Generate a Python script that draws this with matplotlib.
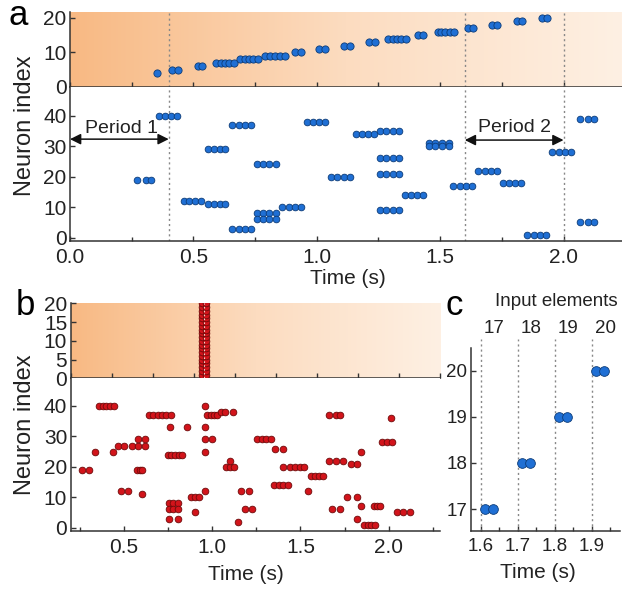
import matplotlib
matplotlib.use("Agg")
import matplotlib.pyplot as plt
import numpy as np
from matplotlib.colors import LinearSegmentedColormap
from matplotlib.ticker import MultipleLocator

plt.rcParams['font.family'] = ['Liberation Sans', 'DejaVu Sans']

W, H = 622, 589

# ===== DATEN =====
# a, oben: Eingangselemente (Index -> Spikezeiten)
input_idx = [4, 5, 6, 7, 8, 9, 10, 11, 12, 13, 14, 15, 16, 17, 18, 19, 20]
input_times = [
    [0.352], [0.412, 0.436], [0.517, 0.534],
    [0.59, 0.61, 0.63, 0.645, 0.665], [0.69, 0.71, 0.725, 0.74, 0.76],
    [0.79, 0.81, 0.83, 0.85, 0.87], [0.91, 0.935], [1.01, 1.035],
    [1.11, 1.135], [1.21, 1.235], [1.29, 1.31, 1.325, 1.34, 1.36],
    [1.41, 1.43], [1.49, 1.505, 1.52, 1.54, 1.555],
    [1.612, 1.632], [1.712, 1.732], [1.812, 1.832], [1.912, 1.932],
]

# a, unten: Ausgangsneuronen (blau)
out_a_idx = [19, 40, 12, 29, 11, 37, 3, 24, 8, 6, 10, 38, 20, 34, 35, 26,
             21, 9, 14, 31, 30, 17, 22, 18, 1, 28, 39, 5]
out_a_times = [
    [0.273, 0.307, 0.330], [0.361, 0.385, 0.41, 0.433],
    [0.46, 0.483, 0.507, 0.53], [0.56, 0.583, 0.607, 0.63],
    [0.56, 0.583, 0.607, 0.63], [0.658, 0.683, 0.708, 0.733],
    [0.658, 0.683, 0.708, 0.733], [0.757, 0.783, 0.808, 0.834],
    [0.757, 0.783, 0.808, 0.834], [0.757, 0.783, 0.808, 0.834],
    [0.861, 0.886, 0.91, 0.935], [0.96, 0.984, 1.008, 1.032],
    [1.057, 1.083, 1.109, 1.135], [1.158, 1.183, 1.207, 1.232],
    [1.255, 1.281, 1.308, 1.334], [1.255, 1.281, 1.308, 1.334],
    [1.255, 1.281, 1.308, 1.334], [1.255, 1.281, 1.308, 1.334],
    [1.357, 1.382, 1.407, 1.432], [1.455, 1.481, 1.508, 1.534],
    [1.455, 1.481, 1.508, 1.534], [1.554, 1.58, 1.605, 1.631],
    [1.655, 1.681, 1.706, 1.732], [1.756, 1.78, 1.805, 1.829],
    [1.854, 1.88, 1.905, 1.931], [1.955, 1.98, 2.004, 2.029],
    [2.067, 2.1, 2.124], [2.067, 2.1, 2.124],
]
period_lines = [0.4, 1.6, 2.0]

# b, oben: alle Eingaenge gleichzeitig
burst_idx = list(range(1, 21))
burst_times = [0.799, 0.823]

# b, unten: Ausgangsneuronen (rot)
out_b_idx = [19, 25, 40, 27, 29, 12, 11, 37, 33, 24, 8, 6, 3, 10, 5, 38,
             20, 22, 2, 26, 14, 17, 21, 36, 28, 7, 1]
out_b_times = [
    [0.264, 0.305, 0.576, 0.59, 0.605],
    [0.339, 0.44, 0.958, 1.845],
    [0.358, 0.38, 0.40, 0.42, 0.443, 0.958],
    [0.466, 0.504, 0.548, 0.582, 0.623],
    [0.582, 0.623, 0.958, 1.002, 1.254, 1.281, 1.308, 1.334],
    [0.485, 0.525, 0.958, 1.163, 1.207, 1.542],
    [0.601],
    [0.642, 0.667, 0.692, 0.716, 0.741, 0.765, 0.974, 0.993, 1.012, 1.03,
     1.659, 1.699, 1.722],
    [0.76, 0.856, 0.958],
    [0.75, 0.77, 0.79, 0.813, 0.832],
    [0.756, 0.78, 0.807],
    [0.756, 0.78, 0.807, 1.186, 1.226, 1.679, 1.722],
    [0.756, 0.807, 1.82],
    [0.879, 0.902, 0.926, 1.765, 1.82],
    [0.902, 2.044, 2.082, 2.12],
    [1.049, 1.074, 1.121],
    [1.078, 1.1, 1.125, 1.403, 1.443, 1.47, 1.497, 1.523],
    [1.1, 1.659, 1.699, 1.743],
    [1.144],
    [1.358, 1.403],
    [1.352, 1.377, 1.403, 1.428],
    [1.561, 1.583, 1.605, 1.627],
    [1.788, 1.82],
    [2.015],
    [1.964, 1.992, 2.02],
    [1.845, 1.917, 1.933, 1.949],
    [1.861, 1.881, 1.901, 1.921],
]

# c: Ausschnitt der Eingaenge 17-20
zoom_idx = [17, 18, 19, 20]
zoom_times = [[1.612, 1.632], [1.712, 1.732], [1.812, 1.832], [1.912, 1.932]]
zoom_lines = [1.6, 1.7, 1.8, 1.9]

# ===== STIL =====
BLUE, BLUE_EDGE = "#1f6fd4", "#0d3c78"
RED, RED_EDGE = "#d2141b", "#6e0a0a"
AX_COL = "#333333"
grad = LinearSegmentedColormap.from_list("grad", ["#f8b983", "#fcdcc0", "#fef0e3"])

fig = plt.figure(figsize=(W / 100, H / 100), dpi=100)


def px_axes(left, top, right, bottom):
    return fig.add_axes([left / W, 1 - bottom / H, (right - left) / W, (bottom - top) / H])


def style(ax, fs=15):
    for s in ["top", "right"]:
        ax.spines[s].set_visible(False)
    for s in ["left", "bottom"]:
        ax.spines[s].set_color(AX_COL)
        ax.spines[s].set_linewidth(1.1)
    ax.tick_params(direction="in", length=3.5, width=1, color=AX_COL,
                   labelsize=fs, labelcolor="#222222")
    ax.tick_params(axis="y", pad=2.5)
    ax.tick_params(axis="x", pad=5)
    ax.tick_params(which="minor", direction="in", length=3, width=1, color=AX_COL)


def background(ax, xlim, ylim):
    ax.imshow(np.linspace(0, 1, 256).reshape(1, -1), cmap=grad, aspect="auto",
              extent=[xlim[0], xlim[1], ylim[0], ylim[1]], zorder=0)
    ax.set_xlim(xlim)
    ax.set_ylim(ylim)


def dots(ax, idx, times, fc, ec, ms=4.8, **kw):
    for i, t in zip(idx, times):
        ax.plot(t, [i] * len(t), "o", ms=ms, mfc=fc, mec=ec, mew=0.6, zorder=3, **kw)


dash = dict(color="#888888", lw=1.0, ls=(0, (1.5, 2.2)), zorder=2)

# ===== PANEL a =====
xa = (0, 2.237)
ax_a1 = px_axes(70, 12, 622, 87)
background(ax_a1, xa, (0, 21.7))
style(ax_a1)
dots(ax_a1, input_idx, input_times, BLUE, BLUE_EDGE, ms=5.2)
ax_a1.set_yticks([0, 10, 20])
ax_a1.xaxis.set_major_locator(MultipleLocator(0.25))
ax_a1.set_xticklabels([])
for x in period_lines:
    ax_a1.axvline(x, **dash)

ax_a2 = px_axes(70, 87, 622, 240.7)
ax_a2.set_xlim(xa)
ax_a2.set_ylim(-1, 49.4)
style(ax_a2)
dots(ax_a2, out_a_idx, out_a_times, BLUE, BLUE_EDGE)
ax_a2.set_yticks([0, 10, 20, 30, 40])
ax_a2.set_xticks(np.arange(0, 2.01, 0.5))
ax_a2.xaxis.set_minor_locator(MultipleLocator(0.25))
ax_a2.set_xticklabels(["0.0", "0.5", "1.0", "1.5", "2.0"])
for x in period_lines:
    ax_a2.axvline(x, **dash)

arrow = dict(arrowstyle="<|-|>", color="#111111", lw=1.1, mutation_scale=16,
             shrinkA=0, shrinkB=0)
ax_a2.annotate("", xy=(0.0, 32.3), xytext=(0.4, 32.3), arrowprops=arrow, zorder=4)
ax_a2.annotate("", xy=(1.6, 32.0), xytext=(2.0, 32.0), arrowprops=arrow, zorder=4)
ax_a2.text(0.21, 35.8, "Period 1", ha="center", va="center", fontsize=14, color="#222222")
ax_a2.text(1.80, 36.2, "Period 2", ha="center", va="center", fontsize=14, color="#222222")

fig.text(18 / W, 1 - 25 / H, "a", fontsize=25, ha="center", va="baseline")
fig.text(25 / W, 1 - 126 / H, "Neuron index", fontsize=17, rotation=90,
         ha="center", va="center", color="#222222")
fig.text(348 / W, 1 - 278 / H, "Time (s)", fontsize=15, ha="center", va="center",
         color="#222222")

# ===== PANEL b =====
ax_b1 = px_axes(70.7, 302.7, 440, 378.3)
background(ax_b1, (0, 2.25), (0, 20.2))
style(ax_b1)
dots(ax_b1, burst_idx, [burst_times] * len(burst_idx), RED, RED_EDGE, ms=4.8)
ax_b1.axvline(np.mean(burst_times), color="#f4d0c8", lw=0.8, ls=(0, (1.5, 2)), zorder=4)
ax_b1.set_yticks([0, 5, 10, 15, 20])
ax_b1.xaxis.set_major_locator(MultipleLocator(0.25))
ax_b1.set_xticklabels([])

ax_b2 = px_axes(70.7, 378.3, 440, 530.7)
ax_b2.set_xlim(0.2, 2.29)
ax_b2.set_ylim(-1, 49.1)
style(ax_b2)
dots(ax_b2, out_b_idx, out_b_times, RED, RED_EDGE)
ax_b2.set_yticks([0, 10, 20, 30, 40])
ax_b2.set_xticks([0.5, 1.0, 1.5, 2.0])
ax_b2.xaxis.set_minor_locator(MultipleLocator(0.25))

fig.text(25 / W, 1 - 315 / H, "b", fontsize=25, ha="center", va="baseline")
fig.text(25 / W, 1 - 425 / H, "Neuron index", fontsize=17, rotation=90,
         ha="center", va="center", color="#222222")
fig.text(246 / W, 1 - 574 / H, "Time (s)", fontsize=15, ha="center", va="center",
         color="#222222")

# ===== PANEL c =====
ax_c = px_axes(470.7, 348.3, 620, 530.7)
ax_c.set_xlim(1.573, 1.976)
ax_c.set_ylim(16.53, 20.49)
style(ax_c, fs=13.5)
dots(ax_c, zoom_idx, zoom_times, BLUE, BLUE_EDGE, ms=7)
for x, lab in zip(zoom_lines, zoom_idx):
    ax_c.axvline(x, ymin=0, ymax=1.05, clip_on=False, **dash)
    ax_c.text(x + 0.036, 20.93, str(lab), ha="center", va="center", fontsize=13.5,
              color="#222222", clip_on=False)
ax_c.set_xticks(zoom_lines)
ax_c.xaxis.set_minor_locator(MultipleLocator(0.05))
ax_c.set_yticks([17, 18, 19, 20])

fig.text(454 / W, 1 - 315 / H, "c", fontsize=25, ha="center", va="baseline")
fig.text(556 / W, 1 - 302 / H, "Input elements", fontsize=13.5, ha="center",
         va="center", color="#222222")
fig.text(538 / W, 1 - 573 / H, "Time (s)", fontsize=15, ha="center", va="center",
         color="#222222")

fig.savefig("out.png", dpi=100)
plt.close(fig)
